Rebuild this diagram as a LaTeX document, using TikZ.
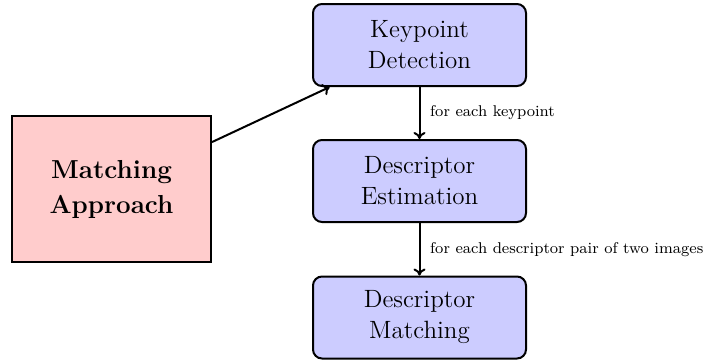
\documentclass[tikz,border=0pt]{standalone}
\usetikzlibrary{arrows.meta}
\begin{document}
\begin{tikzpicture}[x=0.5pt,y=-0.5pt,
  stage/.style={draw, line width=1pt, fill=blue!20, rounded corners=4.5pt,
    minimum width=106.5pt, minimum height=41pt, align=center, inner sep=0pt,
    font=\fontsize{12.5}{15.5}\selectfont},
  approach/.style={draw, line width=1pt, fill=red!20,
    minimum width=99.5pt, minimum height=73pt, align=center, inner sep=0pt,
    font=\fontsize{13}{17.5}\selectfont\bfseries},
  flow/.style={-{To[length=3.5pt,width=6pt]}, line width=1pt},
  note/.style={right, xshift=1.5pt, font=\fontsize{7.8}{9.5}\selectfont}]
\useasboundingbox (0,0) rectangle (713,360);
\node[approach] (ma) at (111.5,189) {Matching\\Approach};
\node[stage] (kd) at (419.5,45) {Keypoint\\Detection};
\node[stage] (de) at (419.5,181) {Descriptor\\Estimation};
\node[stage] (dm) at (419.5,317.5) {Descriptor\\Matching};
\draw[flow] (ma) -- (kd);
\draw[flow] (kd) -- node[note] {for each keypoint} (de);
\draw[flow] (de) -- node[note] {for each descriptor pair of two images} (dm);
\end{tikzpicture}
\end{document}
